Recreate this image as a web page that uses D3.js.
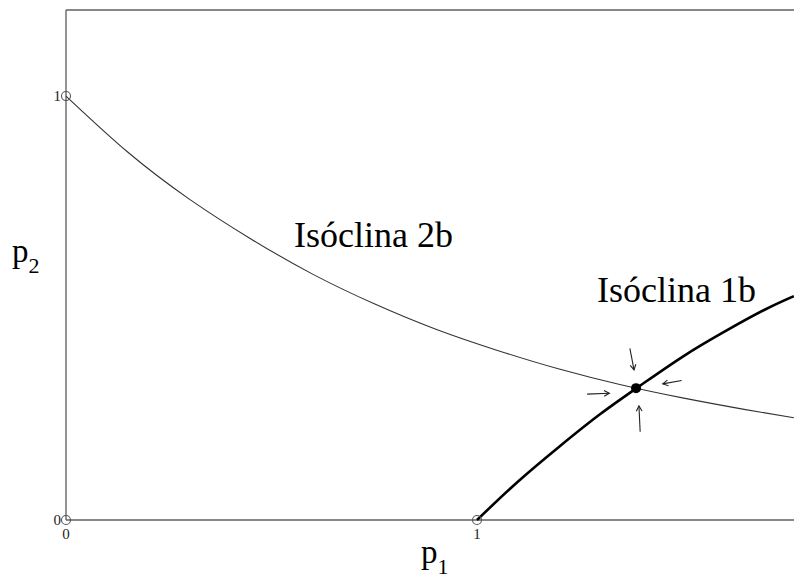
<!DOCTYPE html>
<html>
<head>
<meta charset="utf-8">
<script src="https://cdn.jsdelivr.net/npm/d3@7"></script>
<style>
  html, body { margin: 0; padding: 0; background: #fff; }
  text { font-family: "Liberation Serif", "Times New Roman", serif; }
  .frame { stroke: #111; stroke-width: 1.2; fill: none; }
  .yaxis-line { stroke: #666; stroke-width: 1.4; }
  .iso2 { stroke: #333; stroke-width: 1.1; fill: none; }
  .iso1 { stroke: #000; stroke-width: 2.6; fill: none; }
  .arrow { stroke: #222; stroke-width: 1.1; fill: none; }
  .open-pt { stroke: #555; stroke-width: 1.1; fill: none; }
</style>
</head>
<body>
<svg id="chart" width="794" height="581"></svg>
<script>
// isocline 2b (p1, p2)
const iso2X = [0, 0.15, 0.3, 0.45, 0.6, 0.75, 0.9, 1.05, 1.2, 1.35, 1.5, 1.65, 1.771]
const iso2Y = [1.0, 0.868, 0.757, 0.663, 0.580, 0.510, 0.450, 0.400, 0.356, 0.319, 0.288, 0.261, 0.241]

// isocline 1b
const iso1X = [1.0, 1.1, 1.2, 1.3, 1.4, 1.5, 1.6, 1.7, 1.771]
const iso1Y = [0, 0.091, 0.173, 0.250, 0.319, 0.385, 0.443, 0.496, 0.528]

// stable equilibrium
const equilibrium = [1.387, 0.311]

// open points on axes
const openPoints = [[0, 0], [0, 1], [1, 0]]

// arrows towards the equilibrium: [x1, y1, x2, y2]
const arrows = [
  [1.372, 0.405, 1.382, 0.354],
  [1.498, 0.329, 1.452, 0.321],
  [1.268, 0.297, 1.322, 0.299],
  [1.397, 0.208, 1.394, 0.269]
]

const xTicks = [0, 1]
const yTicks = [0, 1]
const xMax = 1.7713
const yMax = 1.203

const serif = '"Liberation Serif", "Times New Roman", serif'

const svg = d3.select('#chart')
const margin = { top: 10, left: 66, bottom: 61, right: 0 }
const width = +svg.attr('width')
const height = +svg.attr('height')

const x = d3.scaleLinear().domain([0, xMax]).range([margin.left, width - margin.right])
const y = d3.scaleLinear().domain([0, yMax]).range([height - margin.bottom, margin.top])

// frame: top, bottom, left
svg.append('line').attr('class', 'frame')
  .attr('x1', x(0)).attr('x2', x(xMax)).attr('y1', y(yMax)).attr('y2', y(yMax))
svg.append('line').attr('class', 'frame')
  .attr('x1', x(0)).attr('x2', x(xMax)).attr('y1', y(0)).attr('y2', y(0))
svg.append('line').attr('class', 'yaxis-line')
  .attr('x1', x(0)).attr('x2', x(0)).attr('y1', y(yMax)).attr('y2', y(0))

// tick labels
svg.selectAll('.xtick').data(xTicks).join('text')
  .attr('font-family', serif)
  .attr('x', d => x(d)).attr('y', y(0) + 19)
  .attr('text-anchor', 'middle').attr('font-size', 15).attr('fill', '#222')
  .text(d => d)
svg.selectAll('.ytick').data(yTicks).join('text')
  .attr('font-family', serif)
  .attr('x', x(0) - 5).attr('y', d => y(d) + 5)
  .attr('text-anchor', 'end').attr('font-size', 15).attr('fill', '#222')
  .text(d => d)

const line = d3.line().x(d => x(d[0])).y(d => y(d[1])).curve(d3.curveNatural)

svg.append('path').attr('class', 'iso2')
  .datum(iso2X.map((v, i) => [v, iso2Y[i]])).attr('d', line)
svg.append('path').attr('class', 'iso1')
  .datum(iso1X.map((v, i) => [v, iso1Y[i]])).attr('d', line)

svg.selectAll('.open-pt').data(openPoints).join('circle')
  .attr('class', 'open-pt')
  .attr('cx', d => x(d[0])).attr('cy', d => y(d[1])).attr('r', 4.5)

svg.append('circle')
  .attr('cx', x(equilibrium[0])).attr('cy', y(equilibrium[1])).attr('r', 5)
  .attr('fill', '#000')

// open V arrowheads
const head = 6
arrows.forEach(a => {
  const x1 = x(a[0]); const y1 = y(a[1]); const x2 = x(a[2]); const y2 = y(a[3])
  const ang = Math.atan2(y2 - y1, x2 - x1)
  svg.append('line').attr('class', 'arrow')
    .attr('x1', x1).attr('y1', y1).attr('x2', x2).attr('y2', y2)
  const p = [-0.5, 0.5].map(s => [x2 - head * Math.cos(ang + s), y2 - head * Math.sin(ang + s)])
  svg.append('path').attr('class', 'arrow')
    .attr('d', `M${p[0][0]},${p[0][1]}L${x2},${y2}L${p[1][0]},${p[1][1]}`)
})

// curve labels
svg.append('text').attr('font-family', serif)
  .attr('x', 294).attr('y', 247).attr('font-size', 36).text('Isóclina 2b')
svg.append('text').attr('font-family', serif)
  .attr('x', 597).attr('y', 302).attr('font-size', 36).text('Isóclina 1b')

// axis titles
const p1 = svg.append('text').attr('font-family', serif).attr('x', 421).attr('y', 563).attr('font-size', 33)
p1.append('tspan').text('p')
p1.append('tspan').attr('font-size', 22).attr('dy', 11).text('1')
const p2 = svg.append('text').attr('font-family', serif).attr('x', 12).attr('y', 262).attr('font-size', 33)
p2.append('tspan').text('p')
p2.append('tspan').attr('font-size', 22).attr('dy', 11).text('2')
</script>
</body>
</html>
